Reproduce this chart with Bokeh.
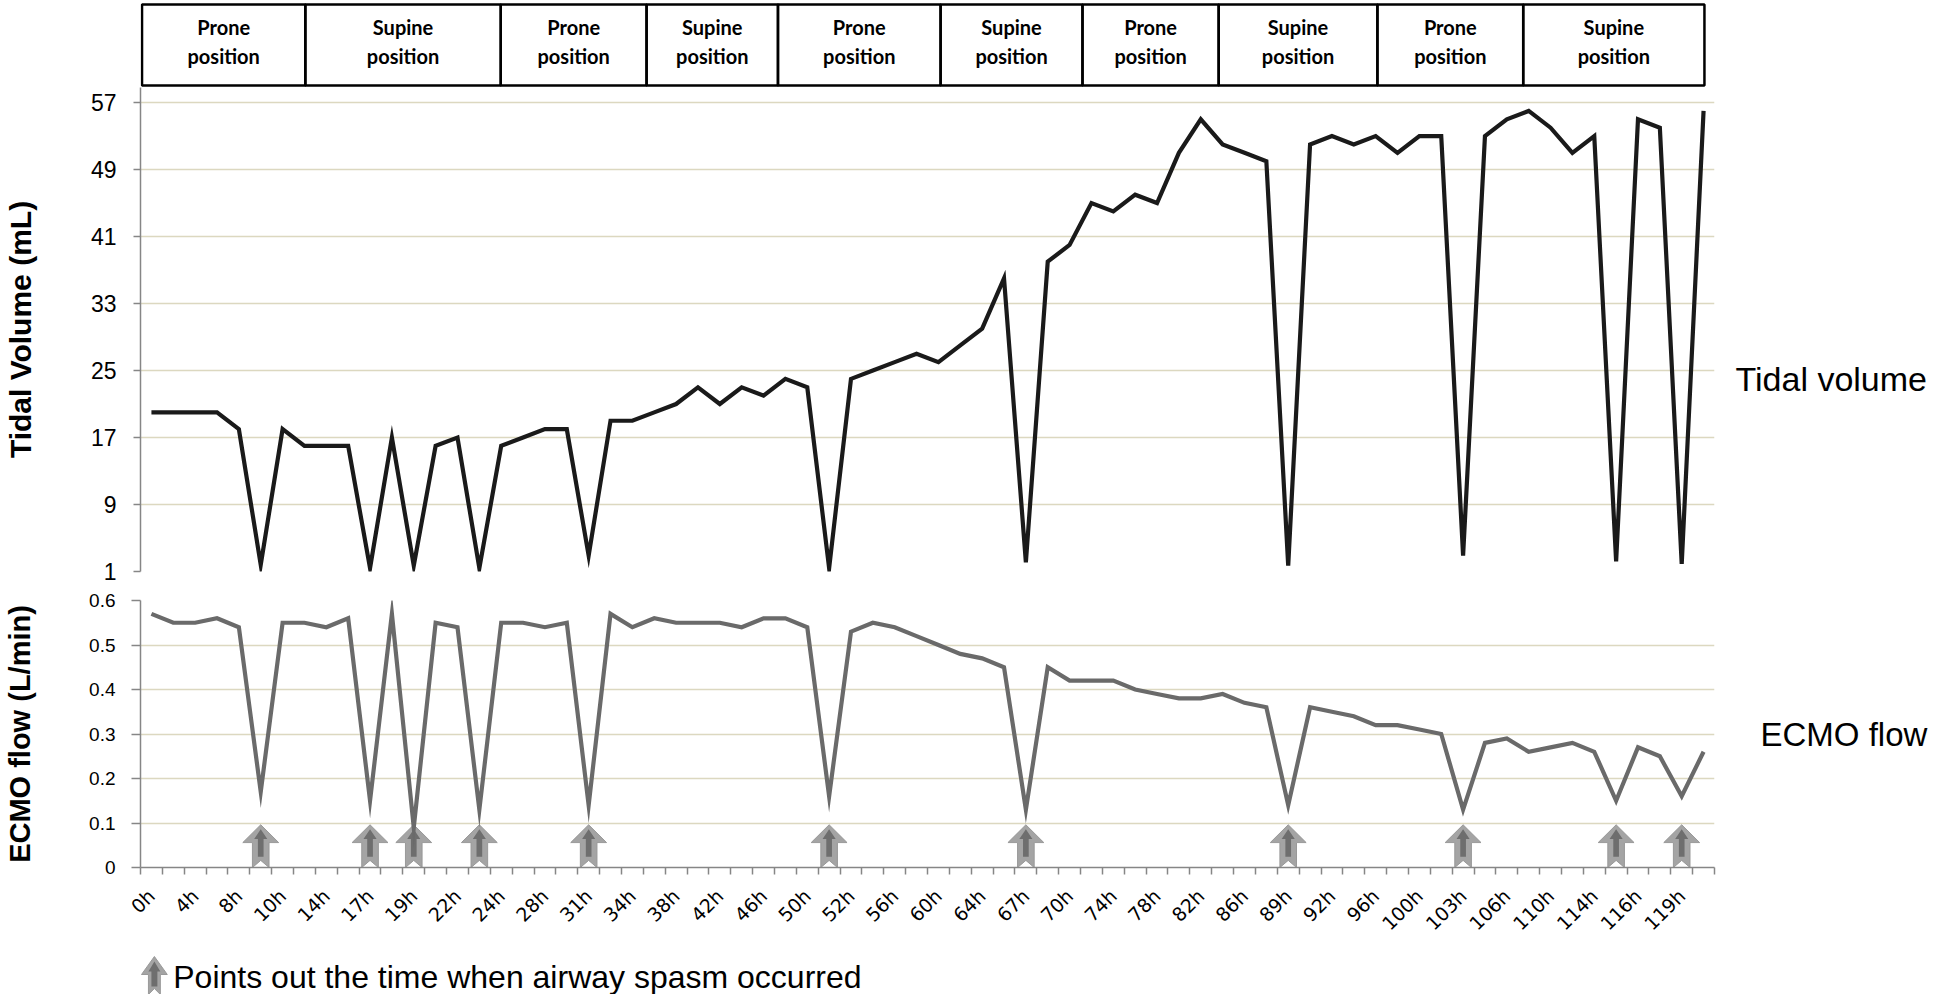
import math
from bokeh.plotting import figure
from bokeh.layouts import column
from bokeh.models import FixedTicker, LinearAxis, Range1d
from bokeh.embed import file_html
from bokeh.resources import INLINE
from bokeh.core.properties import value

# ---------------- data ----------------
hour_labels = ["0h", "4h", "8h", "10h", "14h", "17h", "19h", "22h", "24h", "28h",
               "31h", "34h", "38h", "42h", "46h", "50h", "52h", "56h", "60h", "64h",
               "67h", "70h", "74h", "78h", "82h", "86h", "89h", "92h", "96h", "100h",
               "103h", "106h", "110h", "114h", "116h", "119h"]

tidal_volume = [20, 20, 20, 20, 18, 1.8, 18, 16, 16, 16,
                1.4, 17, 1.7, 16, 17, 1.4, 16, 17, 18, 18,
                2.9, 19, 19, 20, 21, 23, 21, 23, 22, 24,
                23, 1.4, 24, 25, 26, 27, 26, 28, 30, 36,
                2.1, 38, 40, 45, 44, 46, 45, 51, 55, 52,
                51, 50, 1.7, 52, 53, 52, 53, 51, 53, 53,
                2.9, 53, 55, 56, 54, 51, 53, 2.2, 55, 54,
                1.9, 56]

ecmo_flow = [0.57, 0.55, 0.55, 0.56, 0.54, 0.17, 0.55, 0.55, 0.54, 0.56,
             0.15, 0.57, 0.09, 0.55, 0.54, 0.13, 0.55, 0.55, 0.54, 0.55,
             0.14, 0.57, 0.54, 0.56, 0.55, 0.55, 0.55, 0.54, 0.56, 0.56,
             0.54, 0.16, 0.53, 0.55, 0.54, 0.52, 0.50, 0.48, 0.47, 0.45,
             0.13, 0.45, 0.42, 0.42, 0.42, 0.40, 0.39, 0.38, 0.38, 0.39,
             0.37, 0.36, 0.14, 0.36, 0.35, 0.34, 0.32, 0.32, 0.31, 0.30,
             0.13, 0.28, 0.29, 0.26, 0.27, 0.28, 0.26, 0.15, 0.27, 0.25,
             0.16, 0.26]

spasm_idx = [5, 10, 12, 15, 20, 31, 40, 52, 60, 67, 70]

phase_names = ["Prone\nposition", "Supine\nposition"] * 5
phase_edges = [-0.43, 7.04, 15.98, 22.65, 28.66, 36.1, 42.59, 48.82, 56.08, 62.75, 71.04]

tv_ticks = [1, 9, 17, 25, 33, 41, 49, 57]
ecmo_ticks = [0, 0.1, 0.2, 0.3, 0.4, 0.5, 0.6]
ecmo_tick_labels = ["0", "0.1", "0.2", "0.3", "0.4", "0.5", "0.6"]

tv_series_name = "Tidal volume"
tv_name_at = 24
ecmo_series_name = "ECMO flow"
ecmo_name_at = 0.30

legend_text = "Points out the time when airway spasm occurred"

# ---------------- style ----------------
W = 1930
BL, BR = 128, 216          # common left / right borders (frames are aligned)
GRID = "#dcd8c0"
AXIS = "#868686"
FONT = "Liberation Sans"

n = len(tidal_volume)
idx = list(range(n))
xr = (-0.5, n - 0.5)


def base_fig(**kw):
    return figure(width=W, toolbar_location=None, output_backend="svg",
                  outline_line_color=None, background_fill_color="white",
                  border_fill_color="white", min_border_left=BL,
                  min_border_right=BR, **kw)


def style_y(ax, ticks, size, tick_out, standoff):
    ax.ticker = FixedTicker(ticks=ticks)
    ax.axis_line_color = AXIS
    ax.axis_line_width = 1.5
    ax.major_tick_line_color = AXIS
    ax.major_tick_line_width = 1.5
    ax.major_tick_out = tick_out
    ax.major_tick_in = 0
    ax.minor_tick_out = 0
    ax.minor_tick_in = 0
    ax.major_label_text_font = FONT
    ax.major_label_text_font_size = size
    ax.major_label_text_color = "black"
    ax.major_label_standoff = standoff


def series_name_axis(p, at, name, size, standoff):
    ax = LinearAxis(ticker=FixedTicker(ticks=[at]),
                    major_label_overrides={at: name})
    ax.axis_line_color = None
    ax.major_tick_line_color = None
    ax.minor_tick_line_color = None
    ax.major_tick_out = 0
    ax.minor_tick_out = 0
    ax.major_label_text_font = FONT
    ax.major_label_text_font_size = size
    ax.major_label_text_color = "black"
    ax.major_label_standoff = standoff
    p.add_layout(ax, "right")


# ---------------- top phase box ----------------
pa = base_fig(height=87, x_range=Range1d(*xr), y_range=Range1d(0, 87),
              min_border_top=0, min_border_bottom=0,
              x_axis_location=None, y_axis_location=None)
pa.grid.visible = False
lefts = phase_edges[:-1]
rights = phase_edges[1:]
centers = [(a + b) / 2 for a, b in zip(lefts, rights)]
pa.quad(left=lefts, right=rights, bottom=2, top=83,
        fill_color=None, line_color="black", line_width=2.5)
pa.text(x=centers, y=46, text=phase_names, text_align="center",
        text_baseline="middle", text_font=value("Lato"), text_font_style="bold",
        text_font_size="20px", text_line_height=1.2, text_color="black")

# ---------------- tidal volume panel ----------------
pb = base_fig(height=499, x_range=Range1d(*xr), y_range=Range1d(1, 58.8),
              min_border_top=0, min_border_bottom=15, x_axis_location=None)
pb.xgrid.visible = False
pb.ygrid.ticker = FixedTicker(ticks=tv_ticks)
pb.ygrid.grid_line_color = GRID
pb.ygrid.grid_line_width = 1.5
ya = pb.yaxis[0]
style_y(ya, tv_ticks, "23px", 7, 17)
ya.axis_label = "Tidal Volume (mL)"
ya.axis_label_text_font = FONT
ya.axis_label_text_font_style = "bold"
ya.axis_label_text_font_size = "30px"
ya.axis_label_text_color = "black"
ya.axis_label_standoff = 51
pb.line(idx, tidal_volume, line_color="#1a1a1a", line_width=4.2, line_join="miter")
series_name_axis(pb, tv_name_at, tv_series_name, "34px", 21)

# ---------------- ECMO panel ----------------
pc = base_fig(height=359, x_range=Range1d(*xr), y_range=Range1d(0, 0.6),
              min_border_top=14, min_border_bottom=77)
pc.xgrid.visible = False
pc.ygrid.ticker = FixedTicker(ticks=ecmo_ticks[1:])
pc.ygrid.grid_line_color = GRID
pc.ygrid.grid_line_width = 1.5
yb = pc.yaxis[0]
style_y(yb, ecmo_ticks, "19px", 9, 16)
yb.major_label_overrides = {t: s for t, s in zip(ecmo_ticks, ecmo_tick_labels)}
yb.axis_label = "ECMO flow (L/min)"
yb.axis_label_text_font = FONT
yb.axis_label_text_font_style = "bold"
yb.axis_label_text_font_size = "29px"
yb.axis_label_text_color = "black"
yb.axis_label_standoff = 50

xa = pc.xaxis[0]
label_pos = list(range(0, n, 2))[:len(hour_labels)]
xa.ticker = FixedTicker(ticks=label_pos, minor_ticks=[i - 0.5 for i in range(n + 1)])
xa.major_label_overrides = {p: s for p, s in zip(label_pos, hour_labels)}
xa.axis_line_color = AXIS
xa.axis_line_width = 1.5
xa.major_tick_out = 0
xa.major_tick_in = 0
xa.minor_tick_out = 7
xa.minor_tick_in = 0
xa.minor_tick_line_color = AXIS
xa.minor_tick_line_width = 1.5
xa.major_label_orientation = math.pi / 4
xa.major_label_text_font = "DejaVu Sans"
xa.major_label_text_font_size = "19px"
xa.major_label_text_color = "black"
xa.major_label_standoff = 18

# spasm arrows (shape offsets in category / flow units)
HW, SW, TIP, SH, NOTCH = 0.82, 0.38, 0.096, 0.056, 0.016
IHW, ISW, ITIP, ISH, IBOT = 0.3, 0.13, 0.086, 0.064, 0.024
oxs, oys, ixs, iys = [], [], [], []
for k in spasm_idx:
    cx = k
    oxs.append([cx - SW, cx, cx + SW, cx + SW, cx + HW, cx, cx - HW, cx - SW])
    oys.append([0, NOTCH, 0, SH, SH, TIP, SH, SH])
    ixs.append([cx - ISW, cx + ISW, cx + ISW, cx + IHW, cx, cx - IHW, cx - ISW])
    iys.append([IBOT, IBOT, ISH, ISH, ITIP, ISH, ISH])
pc.patches(oxs, oys, fill_color="#a4a4a4", line_color="#999999", line_width=1)
pc.patches(ixs, iys, fill_color="#6e6e6e", line_color=None)

pc.line(idx, ecmo_flow, line_color="#6a6a6a", line_width=4.2, line_join="miter")
series_name_axis(pc, ecmo_name_at, ecmo_series_name, "33px", 46)

# ---------------- legend row ----------------
# x measured in pixels from the left edge of the layout
pd_ = base_fig(height=49, x_range=Range1d(BL, W - BR), y_range=Range1d(0, 49),
               min_border_top=0, min_border_bottom=0,
               x_axis_location=None, y_axis_location=None)
pd_.grid.visible = False
lx = 142
pd_.patch([lx - 6, lx, lx + 6, lx + 6, lx + 13, lx, lx - 13, lx - 6],
          [0, 6, 0, 20, 20, 38, 20, 20], fill_color="#a4a4a4", line_color="#999999")
pd_.patch([lx - 3, lx + 3, lx + 3, lx + 6, lx, lx - 6, lx - 3],
          [8, 8, 23, 23, 33, 23, 23], fill_color="#6e6e6e", line_color=None)
pd_.text(x=[lx + 19], y=[18], text=[legend_text], text_font=value(FONT),
         text_font_size="32px", text_baseline="middle", text_align="left",
         text_color="black")

layout = column(pa, pb, pc, pd_, spacing=0)
open("out.html", "w").write(file_html(layout, INLINE))
